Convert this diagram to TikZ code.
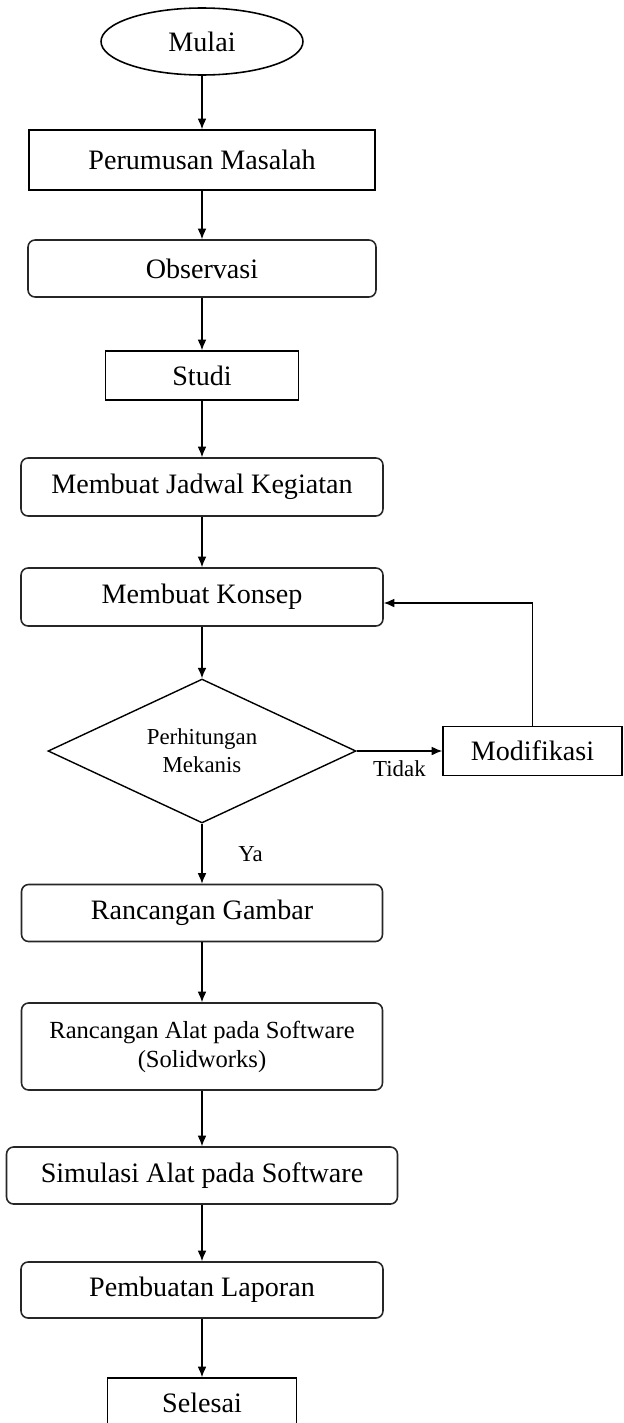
\documentclass[tikz,border=0pt]{standalone}
\usepackage{fontspec}
\setmainfont{Liberation Serif}
\usepackage{tikz}
\usetikzlibrary{shapes.geometric,arrows.meta,positioning}
\tikzset{>={Latex[length=6pt,width=5pt]}}
\tikzset{
  prosesbox/.style={draw=black, line width=0.9pt, rectangle, inner sep=0pt, align=center, font=\fontsize{16}{19}\selectfont},
  bulatbox/.style={prosesbox, rounded corners=4pt, draw=black!85},
  mulaibox/.style={prosesbox, ellipse},
  cekbox/.style={draw=black, line width=0.8pt, diamond, aspect=2.14, inner sep=0pt, align=center, font=\fontsize{13}{16}\selectfont},
  alur/.style={->, line width=0.7pt},
  ketlabel/.style={font=\fontsize{13}{15}\selectfont}
}

\begin{document}
\begin{tikzpicture}[x=0.02cm, y=-0.02cm]

    \useasboundingbox (0,0) rectangle (624,1423);

    % Start
    \node[mulaibox, minimum width=4.04cm, minimum height=1.34cm] (mulai) at (202,41.5) {Mulai};

    % Steps before the concept
    \node[prosesbox, minimum width=6.92cm, minimum height=1.2cm] (rumus) at (202,160) {Perumusan Masalah};
    \node[bulatbox, minimum width=6.96cm, minimum height=1.14cm] (observasi) at (202,268.5) {Observasi};
    \node[prosesbox, minimum width=3.86cm, minimum height=0.98cm] (studi) at (202,375.5) {Studi};
    \node[bulatbox, minimum width=7.24cm, minimum height=1.16cm] (jadwal) at (202,487) {Membuat Jadwal Kegiatan};
    \node[bulatbox, minimum width=7.24cm, minimum height=1.16cm] (konsep) at (202,597) {Membuat Konsep};

    % Check and modification
    \node[cekbox, minimum width=6.16cm, minimum height=2.88cm] (hitung) at (202,751) {Perhitungan\\Mekanis};
    \node[prosesbox, minimum width=3.58cm, minimum height=0.98cm] (modif) at (532.5,751) {Modifikasi};

    % Steps after the check
    \node[bulatbox, minimum width=7.22cm, minimum height=1.14cm] (gambar) at (202,913) {Rancangan Gambar};
    \node[bulatbox, minimum width=7.22cm, minimum height=1.74cm, font=\fontsize{14}{16.5}\selectfont] (alat) at (202,1046.5) {Rancangan Alat pada Software\\(Solidworks)};
    \node[bulatbox, minimum width=7.82cm, minimum height=1.14cm] (simulasi) at (202,1175.5) {Simulasi Alat pada Software};
    \node[bulatbox, minimum width=7.24cm, minimum height=1.12cm] (laporan) at (202,1290) {Pembuatan Laporan};
    \node[prosesbox, minimum width=3.78cm, minimum height=0.98cm] (selesai) at (202,1402.5) {Selesai};

    % Arrows down the main line
    \draw[alur] (mulai) -- (rumus);
    \draw[alur] (rumus) -- (observasi);
    \draw[alur] (observasi) -- (studi);
    \draw[alur] (studi) -- (jadwal);
    \draw[alur] (jadwal) -- (konsep);
    \draw[alur] (konsep) -- (hitung);
    \draw[alur] (hitung) -- (gambar) node[midway, right=0.6cm, ketlabel] {Ya};
    \draw[alur] (gambar) -- (alat);
    \draw[alur] (alat) -- (simulasi);
    \draw[alur] (simulasi) -- (laporan);
    \draw[alur] (laporan) -- (selesai);

    % Loop back through the modification
    \draw[alur] (hitung.east) -- (modif.west) node[midway, below=2pt, ketlabel] {Tidak};
    \draw[alur] (modif.north) |- ([yshift=-0.12cm]konsep.east);

\end{tikzpicture}
\end{document}
